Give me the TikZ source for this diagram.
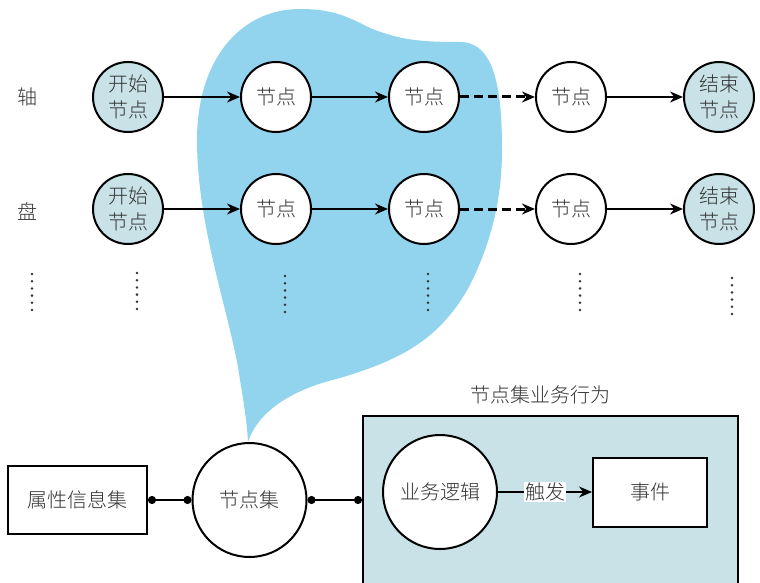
\documentclass[tikz,border=0pt]{standalone}
\usepackage{fontspec}
\newfontfamily\cjk{Noto Sans CJK SC Light}
\usetikzlibrary{arrows.meta}
\definecolor{blob}{HTML}{92D4EE}
\definecolor{pale}{HTML}{C8E2E8}
\definecolor{txt}{HTML}{333333}
\tikzset{
 base/.style={font=\cjk\fontsize{20}{26}\selectfont, text=txt, line width=2pt},
 circ/.style={base, circle, draw, minimum size=70pt, inner sep=0pt, align=center, fill=white},
 endc/.style={circ, fill=pale},
 arr/.style={line width=2pt, -{Stealth[length=13pt,width=11pt]}},
 darr/.style={arr, dash pattern=on 9pt off 5pt, line width=3pt},
 boxn/.style={base, draw, rectangle, fill=white, inner sep=0pt},
 link/.style={line width=2pt, {Circle[length=8pt]}-{Circle[length=8pt]}},
 lbl/.style={font=\cjk\fontsize{20}{26}\selectfont, text=txt},
}
\begin{document}
\begin{tikzpicture}[x=1pt,y=-1pt]
\useasboundingbox (0,0) rectangle (760,583);
\clip (0,0) rectangle (760,583);
% blob
\fill[blob] (248,442) .. controls (258,412) and (290,390) .. (340,378)
  .. controls (400,360) and (440,340) .. (470,285)
  .. controls (495,235) and (502,190) .. (502,150)
  .. controls (502,90) and (495,42) .. (460,42)
  .. controls (420,42) and (400,40) .. (370,28)
  .. controls (345,15) and (330,9) .. (300,9)
  .. controls (240,9) and (197,60) .. (197,140)
  .. controls (197,230) and (232,320) .. (240,380)
  .. controls (245,410) and (247,425) .. (248,442);
% row labels
\node[lbl] (l1) at (27,97) {轴};
\node[lbl] (l2) at (27,211) {盘};
% row 1
\node[endc] (a1) at (128,97) {开始\\节点};
\node[circ] (a2) at (276,97) {节点};
\node[circ] (a3) at (424,97) {节点};
\node[circ] (a4) at (571,97) {节点};
\node[endc] (a5) at (719,97) {结束\\节点};
\draw[arr] (a1) -- (a2);
\draw[arr] (a2) -- (a3);
\draw[darr] (a3) -- (a4);
\draw[arr] (a4) -- (a5);
% row 2
\node[endc] (b1) at (128,209) {开始\\节点};
\node[circ] (b2) at (276,209) {节点};
\node[circ] (b3) at (424,209) {节点};
\node[circ] (b4) at (571,209) {节点};
\node[endc] (b5) at (719,209) {结束\\节点};
\draw[arr] (b1) -- (b2);
\draw[arr] (b2) -- (b3);
\draw[darr] (b3) -- (b4);
\draw[arr] (b4) -- (b5);
% vertical dots
\foreach \x/\y in {32/274, 137/273, 285/276, 428/274, 580/274, 732/278}{
  \foreach \k in {0,...,5}{
    \fill[txt] (\x,\y+\k*7.2) circle (1.4pt);
  }
}
% bottom
\node[boxn, minimum width=139pt, minimum height=68pt] (attr) at (77.5,500) {属性信息集};
\node[circ, minimum size=114pt] (ns) at (249.5,500) {节点集};
\node[draw, line width=2pt, fill=pale, minimum width=375pt, minimum height=190pt, inner sep=0pt] (bh) at (550.5,511) {};
\node[lbl] (bht) at (540,395) {节点集业务行为};
\node[circ, minimum size=114pt] (bl) at (440,492) {业务逻辑};
\node[boxn, minimum width=114pt, minimum height=69pt] (ev) at (650,492) {事件};
\draw[arr] (bl) -- node[lbl, fill=white, inner sep=1pt, pos=0.5] (tr) {触发} (ev);
\draw[link] (attr) -- (ns);
\draw[link] (ns.east) -- (ns.east -| bh.west);
\end{tikzpicture}
\end{document}
